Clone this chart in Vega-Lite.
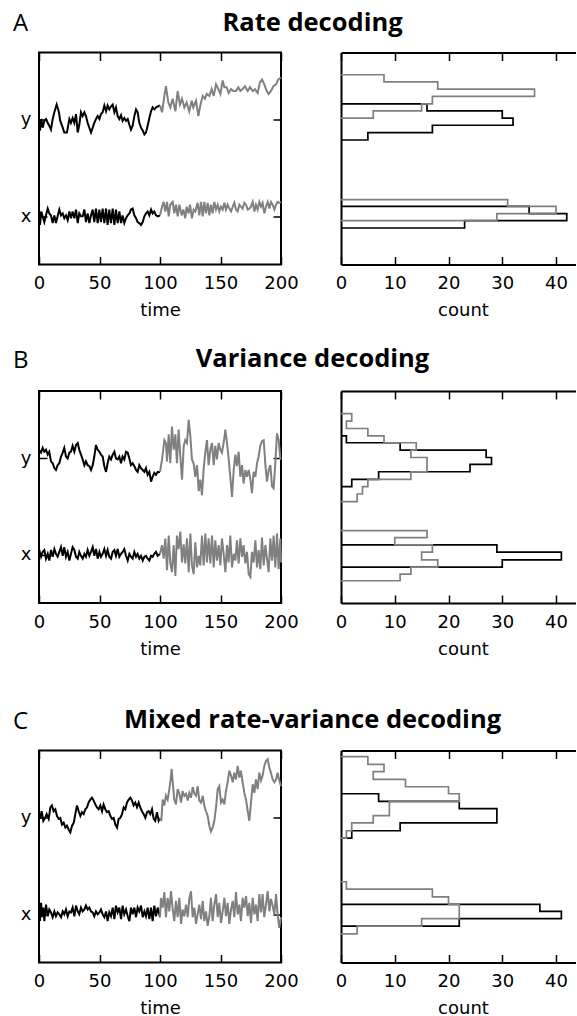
{
"$schema":"https://vega.github.io/schema/vega-lite/v6.json",
"padding":{"left":12,"top":10.5,"right":0,"bottom":0},
"background":"white",
"config":{
 "view":{"stroke":"black","strokeWidth":2},
 "line":{"strokeWidth":2},
 "axis":{"grid":false,"domain":false,"domainColor":"black","domainWidth":2,"tickColor":"black","tickWidth":1.5,"tickSize":-8,"labelFont":"DejaVu Sans","labelFontSize":18,"labelColor":"black","labelPadding":18.3,"labelFlush":false,"labelOverlap":false,"titleFont":"DejaVu Sans","titleFontSize":18,"titleFontWeight":"normal","titleColor":"black","titlePadding":8.7},
 "title":{"font":"Open Sans","color":"black","anchor":"start","frame":"group","baseline":"alphabetic"}
},
"datasets":{
"A":[
{"s":"y","t":0,"v":0.97},{"s":"y","t":0.8,"v":0.89},{"s":"y","t":1.9,"v":1.01},{"s":"y","t":3,"v":0.92},{"s":"y","t":4.4,"v":0.99},{"s":"y","t":5.8,"v":1.01},{"s":"y","t":7.2,"v":0.97},{"s":"y","t":8.5,"v":0.94},{"s":"y","t":9.9,"v":0.90},{"s":"y","t":11.3,"v":1.01},{"s":"y","t":12.7,"v":1.08},{"s":"y","t":14.6,"v":1.16},{"s":"y","t":16.3,"v":1.09},{"s":"y","t":17.6,"v":0.99},{"s":"y","t":19.6,"v":0.92},{"s":"y","t":20.9,"v":0.87},{"s":"y","t":23.1,"v":0.87},{"s":"y","t":25.1,"v":1.01},{"s":"y","t":26.4,"v":0.97},{"s":"y","t":27.8,"v":1.02},{"s":"y","t":29.2,"v":0.97},{"s":"y","t":30.6,"v":1.06},{"s":"y","t":32,"v":0.87},{"s":"y","t":33.3,"v":0.95},{"s":"y","t":34.7,"v":1.08},{"s":"y","t":36.1,"v":1.04},{"s":"y","t":37.5,"v":1.08},{"s":"y","t":38.8,"v":1.04},{"s":"y","t":40.2,"v":0.97},{"s":"y","t":41.6,"v":0.92},{"s":"y","t":43,"v":0.87},{"s":"y","t":44.4,"v":0.92},{"s":"y","t":45.7,"v":0.97},{"s":"y","t":47.1,"v":1.01},{"s":"y","t":48.5,"v":1.04},{"s":"y","t":49.9,"v":1.01},{"s":"y","t":51.2,"v":1.06},{"s":"y","t":52.6,"v":1.08},{"s":"y","t":54,"v":1.15},{"s":"y","t":55.4,"v":1.09},{"s":"y","t":56.7,"v":1.15},{"s":"y","t":58.1,"v":1.11},{"s":"y","t":59.5,"v":1.14},{"s":"y","t":60.9,"v":1.16},{"s":"y","t":62.3,"v":1.08},{"s":"y","t":63.6,"v":1.13},{"s":"y","t":65,"v":1.04},{"s":"y","t":66.4,"v":1.01},{"s":"y","t":67.8,"v":1.05},{"s":"y","t":69.1,"v":0.99},{"s":"y","t":70.5,"v":1.02},{"s":"y","t":71.9,"v":0.99},{"s":"y","t":73.3,"v":1.01},{"s":"y","t":74.7,"v":0.95},{"s":"y","t":76,"v":0.90},{"s":"y","t":77.4,"v":0.94},{"s":"y","t":78.8,"v":1.04},{"s":"y","t":80.2,"v":1.11},{"s":"y","t":81.5,"v":1.08},{"s":"y","t":82.9,"v":0.97},{"s":"y","t":84.3,"v":0.92},{"s":"y","t":85.7,"v":0.89},{"s":"y","t":87.1,"v":0.85},{"s":"y","t":88.4,"v":0.87},{"s":"y","t":89.8,"v":0.94},{"s":"y","t":91.2,"v":1.02},{"s":"y","t":92.6,"v":1.09},{"s":"y","t":93.9,"v":1.13},{"s":"y","t":95.3,"v":1.11},{"s":"y","t":96.7,"v":1.13},{"s":"y","t":98.1,"v":1.14},{"s":"y","t":100,"v":1.15},
{"s":"y","t":101.7,"v":1.08},{"s":"y","t":103.6,"v":1.25},{"s":"y","t":104.9,"v":1.35},{"s":"y","t":106.9,"v":1.18},{"s":"y","t":108.5,"v":1.13},{"s":"y","t":110.5,"v":1.22},{"s":"y","t":112.7,"v":1.09},{"s":"y","t":114.6,"v":1.30},{"s":"y","t":116.5,"v":1.16},{"s":"y","t":118.2,"v":1.22},{"s":"y","t":120.1,"v":1.13},{"s":"y","t":122,"v":1.18},{"s":"y","t":124.2,"v":1.09},{"s":"y","t":126.2,"v":1.20},{"s":"y","t":127.5,"v":1.13},{"s":"y","t":129.8,"v":1.20},{"s":"y","t":131.7,"v":1.04},{"s":"y","t":133.3,"v":1.15},{"s":"y","t":135.3,"v":1.25},{"s":"y","t":137.2,"v":1.22},{"s":"y","t":138.6,"v":1.27},{"s":"y","t":140.8,"v":1.25},{"s":"y","t":142.7,"v":1.32},{"s":"y","t":144.4,"v":1.25},{"s":"y","t":146.3,"v":1.37},{"s":"y","t":148.2,"v":1.32},{"s":"y","t":149.9,"v":1.27},{"s":"y","t":151.8,"v":1.41},{"s":"y","t":153.2,"v":1.34},{"s":"y","t":155.1,"v":1.34},{"s":"y","t":156.7,"v":1.28},{"s":"y","t":158.7,"v":1.32},{"s":"y","t":160.6,"v":1.30},{"s":"y","t":162.8,"v":1.30},{"s":"y","t":164.7,"v":1.34},{"s":"y","t":166.4,"v":1.30},{"s":"y","t":168.3,"v":1.32},{"s":"y","t":170.2,"v":1.35},{"s":"y","t":172.5,"v":1.30},{"s":"y","t":174.4,"v":1.34},{"s":"y","t":176.6,"v":1.30},{"s":"y","t":178.5,"v":1.32},{"s":"y","t":180.7,"v":1.28},{"s":"y","t":182.6,"v":1.39},{"s":"y","t":184.3,"v":1.42},{"s":"y","t":186.2,"v":1.37},{"s":"y","t":188.2,"v":1.30},{"s":"y","t":189.8,"v":1.27},{"s":"y","t":191.7,"v":1.30},{"s":"y","t":193.7,"v":1.35},{"s":"y","t":195.9,"v":1.37},{"s":"y","t":197.8,"v":1.42},{"s":"y","t":200,"v":1.44},
{"s":"x","t":0,"v":0.08},{"s":"x","t":0.8,"v":-0.09},{"s":"x","t":1.9,"v":0.05},{"s":"x","t":3,"v":0},{"s":"x","t":4.4,"v":-0.06},{"s":"x","t":5.8,"v":0.01},{"s":"x","t":7.2,"v":0.08},{"s":"x","t":8.5,"v":0.03},{"s":"x","t":9.9,"v":0.01},{"s":"x","t":11.3,"v":-0.07},{"s":"x","t":12.7,"v":0.01},{"s":"x","t":14,"v":-0.07},{"s":"x","t":15.4,"v":0},{"s":"x","t":16.8,"v":0.07},{"s":"x","t":18.2,"v":0.01},{"s":"x","t":19.6,"v":0.03},{"s":"x","t":20.9,"v":-0.02},{"s":"x","t":22.3,"v":0.01},{"s":"x","t":23.7,"v":-0.04},{"s":"x","t":25.1,"v":0.05},{"s":"x","t":26.4,"v":-0.02},{"s":"x","t":27.8,"v":0.05},{"s":"x","t":29.2,"v":-0.02},{"s":"x","t":30.6,"v":0.07},{"s":"x","t":32,"v":-0.07},{"s":"x","t":33.3,"v":0.03},{"s":"x","t":34.7,"v":0},{"s":"x","t":36.1,"v":0},{"s":"x","t":37.5,"v":0.07},{"s":"x","t":38.8,"v":-0.06},{"s":"x","t":40.2,"v":0.03},{"s":"x","t":41.6,"v":-0.07},{"s":"x","t":43,"v":0.01},{"s":"x","t":44.4,"v":0.07},{"s":"x","t":45.7,"v":-0.06},{"s":"x","t":47.1,"v":0.08},{"s":"x","t":48.5,"v":-0.07},{"s":"x","t":49.9,"v":0.07},{"s":"x","t":51.2,"v":-0.06},{"s":"x","t":52.6,"v":0.08},{"s":"x","t":54,"v":-0.07},{"s":"x","t":55.4,"v":0.08},{"s":"x","t":56.7,"v":-0.09},{"s":"x","t":58.1,"v":0.07},{"s":"x","t":59.5,"v":-0.07},{"s":"x","t":60.9,"v":0.08},{"s":"x","t":62.3,"v":-0.09},{"s":"x","t":63.6,"v":0.07},{"s":"x","t":65,"v":-0.07},{"s":"x","t":66.4,"v":0.05},{"s":"x","t":67.8,"v":-0.07},{"s":"x","t":69.1,"v":0.01},{"s":"x","t":70.5,"v":-0.07},{"s":"x","t":71.9,"v":-0.02},{"s":"x","t":73.3,"v":0.01},{"s":"x","t":74.7,"v":0.03},{"s":"x","t":76,"v":0.07},{"s":"x","t":77.4,"v":0.08},{"s":"x","t":78.8,"v":0.01},{"s":"x","t":80.2,"v":-0.02},{"s":"x","t":81.5,"v":-0.06},{"s":"x","t":82.9,"v":-0.07},{"s":"x","t":84.3,"v":-0.09},{"s":"x","t":85.7,"v":-0.06},{"s":"x","t":87.1,"v":0},{"s":"x","t":88.4,"v":0.03},{"s":"x","t":89.8,"v":0.05},{"s":"x","t":91.2,"v":0.01},{"s":"x","t":92.6,"v":0.07},{"s":"x","t":93.9,"v":0.03},{"s":"x","t":95.3,"v":0.05},{"s":"x","t":96.7,"v":0.01},{"s":"x","t":98.3,"v":0},{"s":"x","t":100,"v":0.01},
{"s":"x","t":101.7,"v":0.10},{"s":"x","t":103,"v":0.15},{"s":"x","t":104.4,"v":0.05},{"s":"x","t":105.8,"v":0.15},{"s":"x","t":107.2,"v":0},{"s":"x","t":108.5,"v":0.12},{"s":"x","t":110.5,"v":0.15},{"s":"x","t":111.8,"v":0.03},{"s":"x","t":113.2,"v":0.12},{"s":"x","t":114.6,"v":0},{"s":"x","t":116,"v":0.12},{"s":"x","t":117.9,"v":0.01},{"s":"x","t":119.3,"v":0.07},{"s":"x","t":120.9,"v":-0.02},{"s":"x","t":122,"v":0.10},{"s":"x","t":123.7,"v":0.03},{"s":"x","t":124.8,"v":0.12},{"s":"x","t":126.4,"v":-0.02},{"s":"x","t":127.8,"v":0.07},{"s":"x","t":129.2,"v":0.05},{"s":"x","t":131.1,"v":0.14},{"s":"x","t":132.5,"v":0.01},{"s":"x","t":133.9,"v":0.15},{"s":"x","t":135.3,"v":0},{"s":"x","t":136.6,"v":0.15},{"s":"x","t":138,"v":0.03},{"s":"x","t":139.4,"v":0.14},{"s":"x","t":140.8,"v":0.01},{"s":"x","t":142.1,"v":0.12},{"s":"x","t":143.5,"v":0.03},{"s":"x","t":144.9,"v":0.15},{"s":"x","t":146.3,"v":0.07},{"s":"x","t":147.7,"v":0.12},{"s":"x","t":149,"v":0.05},{"s":"x","t":150.4,"v":0.10},{"s":"x","t":151.8,"v":0.07},{"s":"x","t":153.2,"v":0.14},{"s":"x","t":154.5,"v":0.07},{"s":"x","t":155.9,"v":0.12},{"s":"x","t":157.3,"v":0.08},{"s":"x","t":158.7,"v":0.05},{"s":"x","t":160.1,"v":0.10},{"s":"x","t":161.4,"v":0.14},{"s":"x","t":162.8,"v":0.07},{"s":"x","t":164.2,"v":0.05},{"s":"x","t":165.6,"v":0.12},{"s":"x","t":166.9,"v":0.10},{"s":"x","t":168.3,"v":0.08},{"s":"x","t":169.7,"v":0.14},{"s":"x","t":171.1,"v":0.12},{"s":"x","t":172.5,"v":0.07},{"s":"x","t":173.8,"v":0.08},{"s":"x","t":175.2,"v":0.10},{"s":"x","t":176.6,"v":0.15},{"s":"x","t":178,"v":0.05},{"s":"x","t":179.3,"v":0.12},{"s":"x","t":180.7,"v":0.07},{"s":"x","t":182.1,"v":0.15},{"s":"x","t":183.5,"v":0.10},{"s":"x","t":184.8,"v":0.14},{"s":"x","t":186.2,"v":0.03},{"s":"x","t":187.6,"v":0.10},{"s":"x","t":189,"v":0.15},{"s":"x","t":190.4,"v":0.08},{"s":"x","t":191.7,"v":0.15},{"s":"x","t":193.1,"v":0.12},{"s":"x","t":194.5,"v":0.07},{"s":"x","t":195.9,"v":0.12},{"s":"x","t":197.2,"v":0.15},{"s":"x","t":198.6,"v":0.14},{"s":"x","t":200,"v":0.15}
],
"B":[
{"s":"y","t":0,"v":1.09},{"s":"y","t":1.7,"v":1.06},{"s":"y","t":3,"v":1.11},{"s":"y","t":4.4,"v":1.07},{"s":"y","t":5.8,"v":1.09},{"s":"y","t":7.2,"v":1.04},{"s":"y","t":8.5,"v":1.07},{"s":"y","t":9.9,"v":0.97},{"s":"y","t":11.3,"v":0.95},{"s":"y","t":12.7,"v":0.90},{"s":"y","t":14,"v":0.88},{"s":"y","t":15.4,"v":0.93},{"s":"y","t":16.8,"v":0.95},{"s":"y","t":18.2,"v":1.02},{"s":"y","t":19.6,"v":1.06},{"s":"y","t":20.9,"v":1.11},{"s":"y","t":22.3,"v":1.02},{"s":"y","t":23.7,"v":1.00},{"s":"y","t":25.1,"v":1.06},{"s":"y","t":26.4,"v":1.07},{"s":"y","t":27.8,"v":1.13},{"s":"y","t":29.2,"v":1.07},{"s":"y","t":30.6,"v":1.14},{"s":"y","t":32,"v":1.16},{"s":"y","t":33.3,"v":1.09},{"s":"y","t":34.7,"v":1.04},{"s":"y","t":36.1,"v":0.99},{"s":"y","t":37.5,"v":0.93},{"s":"y","t":38.8,"v":0.97},{"s":"y","t":40.2,"v":0.93},{"s":"y","t":41.6,"v":0.92},{"s":"y","t":43,"v":0.88},{"s":"y","t":44.4,"v":0.93},{"s":"y","t":45.7,"v":1.02},{"s":"y","t":47.1,"v":1.14},{"s":"y","t":48.5,"v":1.09},{"s":"y","t":49.9,"v":1.07},{"s":"y","t":51.2,"v":1.04},{"s":"y","t":52.6,"v":1.02},{"s":"y","t":54,"v":0.92},{"s":"y","t":55.4,"v":0.86},{"s":"y","t":56.7,"v":0.95},{"s":"y","t":58.1,"v":1.02},{"s":"y","t":59.5,"v":0.99},{"s":"y","t":60.9,"v":1.04},{"s":"y","t":62.3,"v":1.07},{"s":"y","t":63.6,"v":1.00},{"s":"y","t":65,"v":0.99},{"s":"y","t":66.4,"v":1.02},{"s":"y","t":67.8,"v":0.95},{"s":"y","t":69.1,"v":1.02},{"s":"y","t":70.5,"v":0.99},{"s":"y","t":71.9,"v":1.07},{"s":"y","t":73.3,"v":1.06},{"s":"y","t":74.7,"v":1.00},{"s":"y","t":76,"v":0.93},{"s":"y","t":77.4,"v":0.95},{"s":"y","t":78.8,"v":0.92},{"s":"y","t":80.2,"v":0.88},{"s":"y","t":81.5,"v":0.86},{"s":"y","t":82.9,"v":0.93},{"s":"y","t":84.3,"v":0.90},{"s":"y","t":85.7,"v":0.88},{"s":"y","t":87.1,"v":0.86},{"s":"y","t":88.4,"v":0.90},{"s":"y","t":89.8,"v":0.83},{"s":"y","t":91.2,"v":0.86},{"s":"y","t":92.6,"v":0.76},{"s":"y","t":93.9,"v":0.81},{"s":"y","t":95.3,"v":0.85},{"s":"y","t":96.7,"v":0.83},{"s":"y","t":98.1,"v":0.86},{"s":"y","t":100,"v":0.86},
{"s":"y","t":101.7,"v":0.99},{"s":"y","t":103.6,"v":1.19},{"s":"y","t":104.9,"v":1.16},{"s":"y","t":105.8,"v":0.97},{"s":"y","t":107.2,"v":1.25},{"s":"y","t":108.5,"v":0.95},{"s":"y","t":109.9,"v":1.33},{"s":"y","t":111.3,"v":1.09},{"s":"y","t":112.7,"v":1.25},{"s":"y","t":114,"v":0.95},{"s":"y","t":115.4,"v":1.30},{"s":"y","t":116.8,"v":1.02},{"s":"y","t":118.2,"v":0.78},{"s":"y","t":119.6,"v":1.13},{"s":"y","t":120.9,"v":1.19},{"s":"y","t":122.3,"v":1.16},{"s":"y","t":123.7,"v":1.40},{"s":"y","t":125.1,"v":1.23},{"s":"y","t":126.4,"v":0.99},{"s":"y","t":127.8,"v":0.95},{"s":"y","t":129.2,"v":0.81},{"s":"y","t":130.6,"v":0.93},{"s":"y","t":132,"v":0.66},{"s":"y","t":133.3,"v":0.78},{"s":"y","t":134.7,"v":0.62},{"s":"y","t":136.1,"v":0.90},{"s":"y","t":137.5,"v":1.07},{"s":"y","t":138.8,"v":1.19},{"s":"y","t":140.2,"v":0.93},{"s":"y","t":141.6,"v":1.09},{"s":"y","t":143,"v":1.16},{"s":"y","t":144.4,"v":0.93},{"s":"y","t":145.7,"v":1.13},{"s":"y","t":147.1,"v":0.99},{"s":"y","t":148.5,"v":1.16},{"s":"y","t":149.9,"v":1.09},{"s":"y","t":151.2,"v":1.06},{"s":"y","t":152.6,"v":1.16},{"s":"y","t":154,"v":1.30},{"s":"y","t":155.4,"v":1.16},{"s":"y","t":156.7,"v":1.00},{"s":"y","t":158.1,"v":0.81},{"s":"y","t":159.5,"v":0.60},{"s":"y","t":160.9,"v":0.88},{"s":"y","t":162.3,"v":1.04},{"s":"y","t":163.6,"v":0.92},{"s":"y","t":165,"v":1.07},{"s":"y","t":166.4,"v":0.81},{"s":"y","t":167.8,"v":0.93},{"s":"y","t":169.1,"v":0.74},{"s":"y","t":170.5,"v":0.88},{"s":"y","t":171.9,"v":0.81},{"s":"y","t":173.3,"v":0.88},{"s":"y","t":174.7,"v":0.78},{"s":"y","t":176,"v":0.64},{"s":"y","t":177.4,"v":0.86},{"s":"y","t":178.8,"v":0.81},{"s":"y","t":180.2,"v":0.95},{"s":"y","t":181.5,"v":1.02},{"s":"y","t":182.9,"v":1.13},{"s":"y","t":184.3,"v":1.18},{"s":"y","t":185.7,"v":1.19},{"s":"y","t":187.1,"v":0.93},{"s":"y","t":188.4,"v":0.76},{"s":"y","t":189.8,"v":0.88},{"s":"y","t":191.2,"v":0.93},{"s":"y","t":192.6,"v":0.71},{"s":"y","t":193.9,"v":0.69},{"s":"y","t":195.3,"v":0.95},{"s":"y","t":196.7,"v":1.26},{"s":"y","t":198.1,"v":1.19},{"s":"y","t":199.4,"v":1.00},{"s":"y","t":200,"v":0.99},
{"s":"x","t":0,"v":0.06},{"s":"x","t":1.7,"v":-0.02},{"s":"x","t":3,"v":0.03},{"s":"x","t":4.4,"v":0.05},{"s":"x","t":5.8,"v":-0.04},{"s":"x","t":7.2,"v":0.01},{"s":"x","t":8.5,"v":-0.06},{"s":"x","t":9.9,"v":0.05},{"s":"x","t":11.3,"v":-0.02},{"s":"x","t":12.7,"v":0.06},{"s":"x","t":14,"v":0.01},{"s":"x","t":15.4,"v":-0.02},{"s":"x","t":16.8,"v":0.03},{"s":"x","t":18.2,"v":0.08},{"s":"x","t":19.6,"v":-0.01},{"s":"x","t":20.9,"v":0.08},{"s":"x","t":22.3,"v":-0.02},{"s":"x","t":23.7,"v":0.03},{"s":"x","t":25.1,"v":-0.06},{"s":"x","t":26.4,"v":0.01},{"s":"x","t":27.8,"v":0.08},{"s":"x","t":29.2,"v":0.05},{"s":"x","t":30.6,"v":-0.02},{"s":"x","t":32,"v":-0.04},{"s":"x","t":33.3,"v":0.03},{"s":"x","t":34.7,"v":-0.01},{"s":"x","t":36.1,"v":-0.04},{"s":"x","t":37.5,"v":0.01},{"s":"x","t":38.8,"v":-0.02},{"s":"x","t":40.2,"v":0.05},{"s":"x","t":41.6,"v":-0.01},{"s":"x","t":43,"v":0.03},{"s":"x","t":44.4,"v":0.08},{"s":"x","t":45.7,"v":-0.01},{"s":"x","t":47.1,"v":0.06},{"s":"x","t":48.5,"v":-0.04},{"s":"x","t":49.9,"v":0.03},{"s":"x","t":51.2,"v":-0.02},{"s":"x","t":52.6,"v":0.01},{"s":"x","t":54,"v":0.06},{"s":"x","t":55.4,"v":-0.01},{"s":"x","t":56.7,"v":0.05},{"s":"x","t":58.1,"v":-0.02},{"s":"x","t":59.5,"v":-0.04},{"s":"x","t":60.9,"v":0.03},{"s":"x","t":62.3,"v":0.05},{"s":"x","t":63.6,"v":-0.01},{"s":"x","t":65,"v":0.06},{"s":"x","t":66.4,"v":-0.02},{"s":"x","t":67.8,"v":0.01},{"s":"x","t":69.1,"v":0.03},{"s":"x","t":70.5,"v":0.06},{"s":"x","t":71.9,"v":-0.01},{"s":"x","t":73.3,"v":-0.06},{"s":"x","t":74.7,"v":0.01},{"s":"x","t":76,"v":-0.02},{"s":"x","t":77.4,"v":-0.04},{"s":"x","t":78.8,"v":0.03},{"s":"x","t":80.2,"v":-0.02},{"s":"x","t":81.5,"v":0.01},{"s":"x","t":82.9,"v":-0.04},{"s":"x","t":84.3,"v":-0.01},{"s":"x","t":85.7,"v":-0.06},{"s":"x","t":87.1,"v":-0.02},{"s":"x","t":88.4,"v":-0.01},{"s":"x","t":89.8,"v":-0.04},{"s":"x","t":91.2,"v":-0.06},{"s":"x","t":92.6,"v":-0.01},{"s":"x","t":93.9,"v":-0.02},{"s":"x","t":95.3,"v":0.01},{"s":"x","t":96.7,"v":0.03},{"s":"x","t":98.1,"v":-0.01},{"s":"x","t":100,"v":0.01},
{"s":"x","t":101.7,"v":0.10},{"s":"x","t":103,"v":-0.04},{"s":"x","t":104.4,"v":0.17},{"s":"x","t":105.8,"v":-0.16},{"s":"x","t":107.2,"v":0.20},{"s":"x","t":108.5,"v":-0.08},{"s":"x","t":109.9,"v":-0.18},{"s":"x","t":111.3,"v":0.10},{"s":"x","t":112.7,"v":-0.22},{"s":"x","t":114,"v":0.20},{"s":"x","t":115.4,"v":0.06},{"s":"x","t":116.8,"v":0.24},{"s":"x","t":118.2,"v":-0.08},{"s":"x","t":119.6,"v":0.11},{"s":"x","t":120.9,"v":-0.09},{"s":"x","t":122.3,"v":0.17},{"s":"x","t":123.7,"v":-0.18},{"s":"x","t":125.1,"v":0.22},{"s":"x","t":126.4,"v":-0.11},{"s":"x","t":127.8,"v":-0.20},{"s":"x","t":129.2,"v":0.13},{"s":"x","t":130.6,"v":-0.13},{"s":"x","t":132,"v":-0.01},{"s":"x","t":133.3,"v":-0.11},{"s":"x","t":134.7,"v":0.20},{"s":"x","t":136.1,"v":-0.11},{"s":"x","t":137.5,"v":0.22},{"s":"x","t":138.8,"v":-0.08},{"s":"x","t":140.2,"v":0.17},{"s":"x","t":141.6,"v":-0.09},{"s":"x","t":143,"v":0.20},{"s":"x","t":144.4,"v":-0.13},{"s":"x","t":145.7,"v":0.15},{"s":"x","t":147.1,"v":-0.06},{"s":"x","t":148.5,"v":0.10},{"s":"x","t":149.9,"v":-0.11},{"s":"x","t":151.2,"v":0.17},{"s":"x","t":152.6,"v":0.01},{"s":"x","t":154,"v":-0.18},{"s":"x","t":155.4,"v":0.10},{"s":"x","t":156.7,"v":-0.08},{"s":"x","t":158.1,"v":0.20},{"s":"x","t":159.5,"v":-0.13},{"s":"x","t":160.9,"v":0.01},{"s":"x","t":162.3,"v":-0.06},{"s":"x","t":163.6,"v":0.15},{"s":"x","t":165,"v":-0.09},{"s":"x","t":166.4,"v":0.17},{"s":"x","t":167.8,"v":-0.02},{"s":"x","t":169.1,"v":0.10},{"s":"x","t":170.5,"v":-0.09},{"s":"x","t":171.9,"v":0.03},{"s":"x","t":173.3,"v":-0.20},{"s":"x","t":174.7,"v":-0.23},{"s":"x","t":176,"v":0.03},{"s":"x","t":177.4,"v":-0.08},{"s":"x","t":178.8,"v":0.15},{"s":"x","t":180.2,"v":-0.13},{"s":"x","t":181.5,"v":0.05},{"s":"x","t":182.9,"v":-0.15},{"s":"x","t":184.3,"v":0.18},{"s":"x","t":185.7,"v":-0.11},{"s":"x","t":187.1,"v":0.10},{"s":"x","t":188.4,"v":-0.04},{"s":"x","t":189.8,"v":-0.18},{"s":"x","t":191.2,"v":0.17},{"s":"x","t":192.6,"v":-0.06},{"s":"x","t":193.9,"v":0.20},{"s":"x","t":195.3,"v":-0.13},{"s":"x","t":196.7,"v":0.22},{"s":"x","t":198.1,"v":-0.15},{"s":"x","t":199.4,"v":0.17},{"s":"x","t":200,"v":-0.08}
],
"C":[
{"s":"y","t":0,"v":1.06},{"s":"y","t":1.1,"v":0.99},{"s":"y","t":2.2,"v":1.07},{"s":"y","t":3.6,"v":0.97},{"s":"y","t":5,"v":1.00},{"s":"y","t":6.3,"v":1.04},{"s":"y","t":8,"v":0.99},{"s":"y","t":9.4,"v":1.11},{"s":"y","t":10.7,"v":1.13},{"s":"y","t":12.1,"v":1.07},{"s":"y","t":13.5,"v":1.09},{"s":"y","t":14.9,"v":1.02},{"s":"y","t":16.3,"v":0.99},{"s":"y","t":17.6,"v":1.00},{"s":"y","t":19,"v":0.93},{"s":"y","t":20.4,"v":0.95},{"s":"y","t":21.8,"v":0.90},{"s":"y","t":23.1,"v":0.92},{"s":"y","t":24.5,"v":0.88},{"s":"y","t":25.9,"v":0.85},{"s":"y","t":27.3,"v":0.92},{"s":"y","t":28.7,"v":0.95},{"s":"y","t":30,"v":1.04},{"s":"y","t":31.4,"v":1.13},{"s":"y","t":32.8,"v":1.07},{"s":"y","t":34.2,"v":1.02},{"s":"y","t":35.5,"v":1.06},{"s":"y","t":36.9,"v":1.04},{"s":"y","t":38.3,"v":1.09},{"s":"y","t":39.7,"v":1.11},{"s":"y","t":41,"v":1.16},{"s":"y","t":42.4,"v":1.19},{"s":"y","t":43.8,"v":1.21},{"s":"y","t":45.2,"v":1.18},{"s":"y","t":46.6,"v":1.14},{"s":"y","t":47.9,"v":1.11},{"s":"y","t":49.3,"v":1.09},{"s":"y","t":50.7,"v":1.13},{"s":"y","t":52.1,"v":1.07},{"s":"y","t":53.4,"v":1.14},{"s":"y","t":54.8,"v":1.09},{"s":"y","t":56.2,"v":1.06},{"s":"y","t":57.6,"v":1.07},{"s":"y","t":59,"v":1.02},{"s":"y","t":60.3,"v":0.99},{"s":"y","t":61.7,"v":1.00},{"s":"y","t":63.1,"v":0.93},{"s":"y","t":64.5,"v":0.90},{"s":"y","t":65.8,"v":0.99},{"s":"y","t":67.2,"v":1.00},{"s":"y","t":68.6,"v":1.04},{"s":"y","t":70,"v":1.11},{"s":"y","t":71.3,"v":1.09},{"s":"y","t":72.7,"v":1.16},{"s":"y","t":74.1,"v":1.19},{"s":"y","t":75.5,"v":1.21},{"s":"y","t":76.9,"v":1.18},{"s":"y","t":78.2,"v":1.13},{"s":"y","t":79.6,"v":1.16},{"s":"y","t":81,"v":1.11},{"s":"y","t":82.4,"v":1.16},{"s":"y","t":83.7,"v":1.11},{"s":"y","t":85.1,"v":1.07},{"s":"y","t":86.5,"v":1.04},{"s":"y","t":87.9,"v":1.00},{"s":"y","t":89.3,"v":1.06},{"s":"y","t":90.6,"v":1.07},{"s":"y","t":92,"v":1.04},{"s":"y","t":93.4,"v":1.09},{"s":"y","t":94.8,"v":0.99},{"s":"y","t":96.1,"v":0.97},{"s":"y","t":97.5,"v":1.06},{"s":"y","t":98.9,"v":0.97},{"s":"y","t":100,"v":1.00},
{"s":"y","t":101.1,"v":0.97},{"s":"y","t":102.2,"v":1.19},{"s":"y","t":103.6,"v":1.13},{"s":"y","t":104.9,"v":1.23},{"s":"y","t":106.3,"v":1.19},{"s":"y","t":107.7,"v":1.30},{"s":"y","t":108.8,"v":1.40},{"s":"y","t":109.6,"v":1.51},{"s":"y","t":110.5,"v":1.37},{"s":"y","t":111.8,"v":1.19},{"s":"y","t":113.2,"v":1.14},{"s":"y","t":114.6,"v":1.30},{"s":"y","t":116,"v":1.25},{"s":"y","t":117.4,"v":1.16},{"s":"y","t":118.7,"v":1.28},{"s":"y","t":120.1,"v":1.23},{"s":"y","t":121.5,"v":1.25},{"s":"y","t":122.9,"v":1.18},{"s":"y","t":124.2,"v":1.26},{"s":"y","t":125.6,"v":1.21},{"s":"y","t":127,"v":1.32},{"s":"y","t":128.4,"v":1.25},{"s":"y","t":129.8,"v":1.23},{"s":"y","t":131.1,"v":1.33},{"s":"y","t":132.5,"v":1.18},{"s":"y","t":133.9,"v":1.16},{"s":"y","t":135.3,"v":1.23},{"s":"y","t":136.6,"v":1.13},{"s":"y","t":138,"v":1.07},{"s":"y","t":139.4,"v":1.02},{"s":"y","t":140.8,"v":0.92},{"s":"y","t":142.1,"v":0.86},{"s":"y","t":143.5,"v":0.90},{"s":"y","t":144.9,"v":0.97},{"s":"y","t":146.3,"v":1.11},{"s":"y","t":147.7,"v":1.30},{"s":"y","t":149,"v":1.33},{"s":"y","t":150.4,"v":1.16},{"s":"y","t":151.8,"v":1.19},{"s":"y","t":153.2,"v":1.14},{"s":"y","t":154.5,"v":1.28},{"s":"y","t":155.9,"v":1.37},{"s":"y","t":157.3,"v":1.49},{"s":"y","t":158.7,"v":1.44},{"s":"y","t":160.1,"v":1.37},{"s":"y","t":161.4,"v":1.47},{"s":"y","t":162.8,"v":1.40},{"s":"y","t":164.2,"v":1.54},{"s":"y","t":165.6,"v":1.42},{"s":"y","t":166.9,"v":1.49},{"s":"y","t":168.3,"v":1.37},{"s":"y","t":169.7,"v":1.26},{"s":"y","t":171.1,"v":1.19},{"s":"y","t":172.5,"v":1.07},{"s":"y","t":173.8,"v":0.97},{"s":"y","t":175.2,"v":1.16},{"s":"y","t":176.6,"v":1.35},{"s":"y","t":178,"v":1.26},{"s":"y","t":179.3,"v":1.40},{"s":"y","t":180.7,"v":1.30},{"s":"y","t":182.1,"v":1.47},{"s":"y","t":183.5,"v":1.39},{"s":"y","t":184.8,"v":1.44},{"s":"y","t":186.2,"v":1.54},{"s":"y","t":187.6,"v":1.59},{"s":"y","t":189,"v":1.61},{"s":"y","t":190.4,"v":1.52},{"s":"y","t":191.7,"v":1.47},{"s":"y","t":193.1,"v":1.40},{"s":"y","t":194.5,"v":1.37},{"s":"y","t":195.9,"v":1.40},{"s":"y","t":197.2,"v":1.47},{"s":"y","t":198.6,"v":1.39},{"s":"y","t":200,"v":1.33},
{"s":"x","t":0,"v":0.10},{"s":"x","t":0.8,"v":-0.07},{"s":"x","t":1.7,"v":0.12},{"s":"x","t":2.5,"v":-0.03},{"s":"x","t":3.6,"v":0.07},{"s":"x","t":4.4,"v":-0.07},{"s":"x","t":5.8,"v":0.10},{"s":"x","t":7.2,"v":-0.02},{"s":"x","t":8.5,"v":0.05},{"s":"x","t":9.9,"v":0.02},{"s":"x","t":11.3,"v":-0.03},{"s":"x","t":12.7,"v":0.03},{"s":"x","t":14,"v":-0.02},{"s":"x","t":15.4,"v":0.02},{"s":"x","t":16.8,"v":0},{"s":"x","t":18.2,"v":-0.03},{"s":"x","t":19.6,"v":0.03},{"s":"x","t":20.9,"v":0},{"s":"x","t":22.3,"v":0.05},{"s":"x","t":23.7,"v":-0.02},{"s":"x","t":25.1,"v":0.03},{"s":"x","t":26.4,"v":0.02},{"s":"x","t":27.8,"v":0.07},{"s":"x","t":29.2,"v":-0.02},{"s":"x","t":30.6,"v":0.09},{"s":"x","t":32,"v":0.03},{"s":"x","t":33.3,"v":0},{"s":"x","t":34.7,"v":0.07},{"s":"x","t":36.1,"v":0.03},{"s":"x","t":37.5,"v":0.05},{"s":"x","t":38.8,"v":0.09},{"s":"x","t":40.2,"v":0.05},{"s":"x","t":41.6,"v":0.07},{"s":"x","t":43,"v":0.03},{"s":"x","t":44.4,"v":0.02},{"s":"x","t":45.7,"v":-0.02},{"s":"x","t":47.1,"v":0.03},{"s":"x","t":48.5,"v":0},{"s":"x","t":49.9,"v":0.02},{"s":"x","t":51.2,"v":0.05},{"s":"x","t":52.6,"v":0},{"s":"x","t":54,"v":-0.03},{"s":"x","t":55.4,"v":0.03},{"s":"x","t":56.7,"v":-0.07},{"s":"x","t":58.1,"v":0.02},{"s":"x","t":59.5,"v":-0.02},{"s":"x","t":60.9,"v":0.07},{"s":"x","t":62.3,"v":-0.05},{"s":"x","t":63.6,"v":0.09},{"s":"x","t":65,"v":0.02},{"s":"x","t":66.4,"v":0.07},{"s":"x","t":67.8,"v":-0.05},{"s":"x","t":69.1,"v":0.09},{"s":"x","t":70.5,"v":0},{"s":"x","t":71.9,"v":0.05},{"s":"x","t":73.3,"v":-0.02},{"s":"x","t":74.7,"v":-0.07},{"s":"x","t":76,"v":0.07},{"s":"x","t":77.4,"v":0},{"s":"x","t":78.8,"v":0.07},{"s":"x","t":80.2,"v":-0.03},{"s":"x","t":81.5,"v":0.07},{"s":"x","t":82.9,"v":0.03},{"s":"x","t":84.3,"v":0.09},{"s":"x","t":85.7,"v":-0.03},{"s":"x","t":87.1,"v":0.03},{"s":"x","t":88.4,"v":-0.02},{"s":"x","t":89.8,"v":0.07},{"s":"x","t":91.2,"v":-0.05},{"s":"x","t":92.6,"v":0.07},{"s":"x","t":93.9,"v":-0.07},{"s":"x","t":95.3,"v":0.09},{"s":"x","t":96.7,"v":-0.02},{"s":"x","t":98.1,"v":0.07},{"s":"x","t":100,"v":-0.03},
{"s":"x","t":100.8,"v":0.17},{"s":"x","t":102.2,"v":0.07},{"s":"x","t":103.6,"v":0.23},{"s":"x","t":104.9,"v":-0.03},{"s":"x","t":106.3,"v":0.17},{"s":"x","t":107.7,"v":0.03},{"s":"x","t":109.1,"v":0.24},{"s":"x","t":110.5,"v":0.05},{"s":"x","t":111.8,"v":-0.07},{"s":"x","t":113.2,"v":0.14},{"s":"x","t":114.6,"v":-0.03},{"s":"x","t":116,"v":0.17},{"s":"x","t":117.4,"v":-0.10},{"s":"x","t":118.7,"v":0.05},{"s":"x","t":120.1,"v":-0.02},{"s":"x","t":121.5,"v":0.10},{"s":"x","t":122.9,"v":-0.03},{"s":"x","t":124.2,"v":0.16},{"s":"x","t":125.6,"v":0.24},{"s":"x","t":127,"v":-0.03},{"s":"x","t":128.4,"v":0.07},{"s":"x","t":129.8,"v":-0.10},{"s":"x","t":131.1,"v":0},{"s":"x","t":132.5,"v":0.10},{"s":"x","t":133.9,"v":-0.05},{"s":"x","t":135.3,"v":0.14},{"s":"x","t":136.6,"v":-0.07},{"s":"x","t":138,"v":0.03},{"s":"x","t":139.4,"v":-0.12},{"s":"x","t":140.8,"v":-0.02},{"s":"x","t":142.1,"v":0.17},{"s":"x","t":143.5,"v":-0.07},{"s":"x","t":144.9,"v":0.10},{"s":"x","t":146.3,"v":0.21},{"s":"x","t":147.7,"v":-0.03},{"s":"x","t":149,"v":0.12},{"s":"x","t":150.4,"v":-0.09},{"s":"x","t":151.8,"v":0.03},{"s":"x","t":153.2,"v":0.17},{"s":"x","t":154.5,"v":-0.02},{"s":"x","t":155.9,"v":0.12},{"s":"x","t":157.3,"v":-0.10},{"s":"x","t":158.7,"v":0.05},{"s":"x","t":160.1,"v":0.14},{"s":"x","t":161.4,"v":-0.03},{"s":"x","t":162.8,"v":0.23},{"s":"x","t":164.2,"v":0},{"s":"x","t":165.6,"v":0.10},{"s":"x","t":166.9,"v":-0.07},{"s":"x","t":168.3,"v":0.17},{"s":"x","t":169.7,"v":0.07},{"s":"x","t":171.1,"v":0.19},{"s":"x","t":172.5,"v":-0.02},{"s":"x","t":173.8,"v":0.12},{"s":"x","t":175.2,"v":-0.09},{"s":"x","t":176.6,"v":0.17},{"s":"x","t":178,"v":0},{"s":"x","t":179.3,"v":0.10},{"s":"x","t":180.7,"v":-0.07},{"s":"x","t":182.1,"v":0.21},{"s":"x","t":183.5,"v":0.02},{"s":"x","t":184.8,"v":0.21},{"s":"x","t":186.2,"v":-0.03},{"s":"x","t":187.6,"v":0.10},{"s":"x","t":189,"v":0.24},{"s":"x","t":190.4,"v":0.03},{"s":"x","t":191.7,"v":0.16},{"s":"x","t":193.1,"v":0.09},{"s":"x","t":194.5,"v":0},{"s":"x","t":195.9,"v":0.21},{"s":"x","t":197.2,"v":0},{"s":"x","t":198.6,"v":-0.14},{"s":"x","t":200,"v":-0.03}
],
"hA":[
{"h":"b","s":"y","i":0,"e":0.792,"c":0},{"h":"b","s":"y","i":1,"e":0.869,"c":5},{"h":"b","s":"y","i":2,"e":0.945,"c":17},{"h":"b","s":"y","i":3,"e":1.018,"c":32},{"h":"b","s":"y","i":4,"e":1.094,"c":30},{"h":"b","s":"y","i":5,"e":1.167,"c":16},{"h":"b","s":"y","i":6,"e":1.167,"c":0},
{"h":"g","s":"y","i":0,"e":1.018,"c":0},{"h":"g","s":"y","i":1,"e":1.094,"c":6},{"h":"g","s":"y","i":2,"e":1.167,"c":15},{"h":"g","s":"y","i":3,"e":1.244,"c":17},{"h":"g","s":"y","i":4,"e":1.320,"c":36},{"h":"g","s":"y","i":5,"e":1.396,"c":18},{"h":"g","s":"y","i":6,"e":1.469,"c":8},{"h":"g","s":"y","i":7,"e":1.469,"c":0},
{"h":"b","s":"x","i":0,"e":-0.121,"c":0},{"h":"b","s":"x","i":1,"e":-0.045,"c":23},{"h":"b","s":"x","i":2,"e":0.028,"c":42},{"h":"b","s":"x","i":3,"e":0.104,"c":35},{"h":"b","s":"x","i":4,"e":0.104,"c":0},
{"h":"g","s":"x","i":0,"e":-0.045,"c":0},{"h":"g","s":"x","i":1,"e":0.028,"c":29},{"h":"g","s":"x","i":2,"e":0.104,"c":40},{"h":"g","s":"x","i":3,"e":0.174,"c":31},{"h":"g","s":"x","i":4,"e":0.174,"c":0}
],
"hB":[
{"h":"b","s":"y","i":0,"e":0.707,"c":0},{"h":"b","s":"y","i":1,"e":0.783,"c":2},{"h":"b","s":"y","i":2,"e":0.862,"c":7},{"h":"b","s":"y","i":3,"e":0.938,"c":24},{"h":"b","s":"y","i":4,"e":1.010,"c":28},{"h":"b","s":"y","i":5,"e":1.087,"c":27},{"h":"b","s":"y","i":6,"e":1.163,"c":11},{"h":"b","s":"y","i":7,"e":1.235,"c":1},{"h":"b","s":"y","i":8,"e":1.235,"c":0},
{"h":"g","s":"y","i":0,"e":0.552,"c":0},{"h":"g","s":"y","i":1,"e":0.631,"c":3},{"h":"g","s":"y","i":2,"e":0.707,"c":4},{"h":"g","s":"y","i":3,"e":0.783,"c":5},{"h":"g","s":"y","i":4,"e":0.862,"c":13},{"h":"g","s":"y","i":5,"e":0.938,"c":16},{"h":"g","s":"y","i":6,"e":1.010,"c":16},{"h":"g","s":"y","i":7,"e":1.087,"c":13},{"h":"g","s":"y","i":8,"e":1.163,"c":14},{"h":"g","s":"y","i":9,"e":1.235,"c":8},{"h":"g","s":"y","i":10,"e":1.311,"c":5},{"h":"g","s":"y","i":11,"e":1.387,"c":1},{"h":"g","s":"y","i":12,"e":1.466,"c":2},{"h":"g","s":"y","i":13,"e":1.466,"c":0},
{"h":"b","s":"x","i":0,"e":-0.128,"c":0},{"h":"b","s":"x","i":1,"e":-0.052,"c":30},{"h":"b","s":"x","i":2,"e":0.027,"c":41},{"h":"b","s":"x","i":3,"e":0.104,"c":29},{"h":"b","s":"x","i":4,"e":0.104,"c":0},
{"h":"g","s":"x","i":0,"e":-0.269,"c":0},{"h":"g","s":"x","i":1,"e":-0.201,"c":11},{"h":"g","s":"x","i":2,"e":-0.128,"c":13},{"h":"g","s":"x","i":3,"e":-0.052,"c":18},{"h":"g","s":"x","i":4,"e":0.027,"c":15},{"h":"g","s":"x","i":5,"e":0.104,"c":17},{"h":"g","s":"x","i":6,"e":0.179,"c":10},{"h":"g","s":"x","i":7,"e":0.252,"c":16},{"h":"g","s":"x","i":8,"e":0.252,"c":0}
],
"hC":[
{"h":"b","s":"y","i":0,"e":0.791,"c":0},{"h":"b","s":"y","i":1,"e":0.867,"c":2},{"h":"b","s":"y","i":2,"e":0.948,"c":11},{"h":"b","s":"y","i":3,"e":1.024,"c":29},{"h":"b","s":"y","i":4,"e":1.097,"c":29},{"h":"b","s":"y","i":5,"e":1.173,"c":22},{"h":"b","s":"y","i":6,"e":1.251,"c":7},{"h":"b","s":"y","i":7,"e":1.251,"c":0},
{"h":"g","s":"y","i":0,"e":0.791,"c":0},{"h":"g","s":"y","i":1,"e":0.867,"c":1},{"h":"g","s":"y","i":2,"e":0.948,"c":2},{"h":"g","s":"y","i":3,"e":1.024,"c":6},{"h":"g","s":"y","i":4,"e":1.097,"c":9},{"h":"g","s":"y","i":5,"e":1.173,"c":9},{"h":"g","s":"y","i":6,"e":1.251,"c":22},{"h":"g","s":"y","i":7,"e":1.324,"c":20},{"h":"g","s":"y","i":8,"e":1.400,"c":12},{"h":"g","s":"y","i":9,"e":1.481,"c":6},{"h":"g","s":"y","i":10,"e":1.557,"c":8},{"h":"g","s":"y","i":11,"e":1.637,"c":5},{"h":"g","s":"y","i":12,"e":1.637,"c":0},
{"h":"b","s":"x","i":0,"e":-0.122,"c":0},{"h":"b","s":"x","i":1,"e":-0.045,"c":22},{"h":"b","s":"x","i":2,"e":0.031,"c":41},{"h":"b","s":"x","i":3,"e":0.104,"c":37},{"h":"b","s":"x","i":4,"e":0.104,"c":0},
{"h":"g","s":"x","i":0,"e":-0.202,"c":0},{"h":"g","s":"x","i":1,"e":-0.122,"c":3},{"h":"g","s":"x","i":2,"e":-0.045,"c":15},{"h":"g","s":"x","i":3,"e":0.031,"c":22},{"h":"g","s":"x","i":4,"e":0.104,"c":22},{"h":"g","s":"x","i":5,"e":0.181,"c":20},{"h":"g","s":"x","i":6,"e":0.261,"c":17},{"h":"g","s":"x","i":7,"e":0.338,"c":1},{"h":"g","s":"x","i":8,"e":0.338,"c":0}
]
},
"spacing":26.5,
"vconcat":[
{"bounds":"flush","spacing":60,"hconcat":[
 {"width":242,"height":212,"title":{"text":"A","fontSize":24,"fontWeight":"normal","dx":-26,"offset":15.4},"data":{"name":"A"},
  "layer":[
   {"transform":[{"filter":"datum.t <= 100"}],"mark":{"type":"line","color":"black"},
    "encoding":{"x":{"field":"t","type":"quantitative","scale":{"domain":[0,200],"nice":false},"axis":{"orient":"bottom","values":[0,50,100,150,200],"title":"time"}},
     "y":{"field":"v","type":"quantitative","scale":{"domain":[-0.5,1.7],"nice":false,"zero":false},"axis":{"orient":"left","values":[0,1],"labelExpr":"datum.value == 1 ? 'y' : 'x'","labelPadding":16,"title":null}},"detail":{"field":"s"}}},
   {"transform":[{"filter":"datum.t >= 100"}],"mark":{"type":"line","color":"#808080"},
    "encoding":{"x":{"field":"t","type":"quantitative","scale":{"domain":[0,200],"nice":false},"axis":{"orient":"top","values":[0,50,100,150,200],"labels":false,"title":null}},
     "y":{"field":"v","type":"quantitative","scale":{"domain":[-0.5,1.7],"nice":false,"zero":false},"axis":{"orient":"right","values":[0,1],"labels":false,"title":null}},"detail":{"field":"s"}}}
  ],
  "resolve":{"axis":{"x":"independent","y":"independent"}}},
 {"width":235,"height":212,"view":{"stroke":null},"title":{"text":"Rate decoding","fontSize":25.5,"fontWeight":"bold","anchor":"middle","dx":-146,"offset":15.4},"data":{"name":"hA"},
  "layer":[
   {"transform":[{"filter":"datum.h == 'b'"}],"mark":{"type":"line","color":"black","strokeWidth":1.7,"interpolate":"step-after"},
    "encoding":{"x":{"field":"c","type":"quantitative","scale":{"domain":[0,43.72],"nice":false},"axis":{"orient":"bottom","values":[0,10,20,30,40],"title":"count","titleX":122,"domain":true}},
     "y":{"field":"e","type":"quantitative","scale":{"domain":[-0.5,1.7],"nice":false,"zero":false},"axis":{"orient":"left","labels":false,"ticks":false,"domain":true,"title":null}},"detail":{"field":"s"},"order":{"field":"i"}}},
   {"transform":[{"filter":"datum.h == 'g'"}],"mark":{"type":"line","color":"#808080","strokeWidth":1.7,"interpolate":"step-after"},
    "encoding":{"x":{"field":"c","type":"quantitative","scale":{"domain":[0,43.72],"nice":false},"axis":{"orient":"top","values":[0,10,20,30,40],"labels":false,"title":null,"domain":true}},
     "y":{"field":"e","type":"quantitative","scale":{"domain":[-0.5,1.7],"nice":false,"zero":false},"axis":null},"detail":{"field":"s"},"order":{"field":"i"}}}
  ],
  "resolve":{"axis":{"x":"independent","y":"independent"}}}
]},
{"spacing":48.5,"vconcat":[
{"bounds":"flush","spacing":60,"hconcat":[
 {"width":242,"height":212,"title":{"text":"B","fontSize":24,"fontWeight":"normal","dx":-26,"offset":17.4},"data":{"name":"B"},
  "layer":[
   {"transform":[{"filter":"datum.t <= 100"}],"mark":{"type":"line","color":"black"},
    "encoding":{"x":{"field":"t","type":"quantitative","scale":{"domain":[0,200],"nice":false},"axis":{"orient":"bottom","values":[0,50,100,150,200],"title":"time"}},
     "y":{"field":"v","type":"quantitative","scale":{"domain":[-0.5,1.7],"nice":false,"zero":false},"axis":{"orient":"left","values":[0,1],"labelExpr":"datum.value == 1 ? 'y' : 'x'","labelPadding":16,"title":null}},"detail":{"field":"s"}}},
   {"transform":[{"filter":"datum.t >= 100"}],"mark":{"type":"line","color":"#808080"},
    "encoding":{"x":{"field":"t","type":"quantitative","scale":{"domain":[0,200],"nice":false},"axis":{"orient":"top","values":[0,50,100,150,200],"labels":false,"title":null}},
     "y":{"field":"v","type":"quantitative","scale":{"domain":[-0.5,1.7],"nice":false,"zero":false},"axis":{"orient":"right","values":[0,1],"labels":false,"title":null}},"detail":{"field":"s"}}}
  ],
  "resolve":{"axis":{"x":"independent","y":"independent"}}},
 {"width":235,"height":212,"view":{"stroke":null},"title":{"text":"Variance decoding","fontSize":25.5,"fontWeight":"bold","anchor":"middle","dx":-146,"offset":17.4},"data":{"name":"hB"},
  "layer":[
   {"transform":[{"filter":"datum.h == 'b'"}],"mark":{"type":"line","color":"black","strokeWidth":1.7,"interpolate":"step-after"},
    "encoding":{"x":{"field":"c","type":"quantitative","scale":{"domain":[0,43.72],"nice":false},"axis":{"orient":"bottom","values":[0,10,20,30,40],"title":"count","titleX":122,"domain":true}},
     "y":{"field":"e","type":"quantitative","scale":{"domain":[-0.5,1.7],"nice":false,"zero":false},"axis":{"orient":"left","labels":false,"ticks":false,"domain":true,"title":null}},"detail":{"field":"s"},"order":{"field":"i"}}},
   {"transform":[{"filter":"datum.h == 'g'"}],"mark":{"type":"line","color":"#808080","strokeWidth":1.7,"interpolate":"step-after"},
    "encoding":{"x":{"field":"c","type":"quantitative","scale":{"domain":[0,43.72],"nice":false},"axis":{"orient":"top","values":[0,10,20,30,40],"labels":false,"title":null,"domain":true}},
     "y":{"field":"e","type":"quantitative","scale":{"domain":[-0.5,1.7],"nice":false,"zero":false},"axis":null},"detail":{"field":"s"},"order":{"field":"i"}}}
  ],
  "resolve":{"axis":{"x":"independent","y":"independent"}}}
]},
{"bounds":"flush","spacing":60,"hconcat":[
 {"width":242,"height":212,"title":{"text":"C","fontSize":24,"fontWeight":"normal","dx":-26,"offset":15.9},"data":{"name":"C"},
  "layer":[
   {"transform":[{"filter":"datum.t <= 100"}],"mark":{"type":"line","color":"black"},
    "encoding":{"x":{"field":"t","type":"quantitative","scale":{"domain":[0,200],"nice":false},"axis":{"orient":"bottom","values":[0,50,100,150,200],"title":"time"}},
     "y":{"field":"v","type":"quantitative","scale":{"domain":[-0.5,1.7],"nice":false,"zero":false},"axis":{"orient":"left","values":[0,1],"labelExpr":"datum.value == 1 ? 'y' : 'x'","labelPadding":16,"title":null}},"detail":{"field":"s"}}},
   {"transform":[{"filter":"datum.t >= 100"}],"mark":{"type":"line","color":"#808080"},
    "encoding":{"x":{"field":"t","type":"quantitative","scale":{"domain":[0,200],"nice":false},"axis":{"orient":"top","values":[0,50,100,150,200],"labels":false,"title":null}},
     "y":{"field":"v","type":"quantitative","scale":{"domain":[-0.5,1.7],"nice":false,"zero":false},"axis":{"orient":"right","values":[0,1],"labels":false,"title":null}},"detail":{"field":"s"}}}
  ],
  "resolve":{"axis":{"x":"independent","y":"independent"}}},
 {"width":235,"height":212,"view":{"stroke":null},"title":{"text":"Mixed rate-variance decoding","fontSize":25.5,"fontWeight":"bold","anchor":"middle","dx":-146,"offset":15.9},"data":{"name":"hC"},
  "layer":[
   {"transform":[{"filter":"datum.h == 'b'"}],"mark":{"type":"line","color":"black","strokeWidth":1.7,"interpolate":"step-after"},
    "encoding":{"x":{"field":"c","type":"quantitative","scale":{"domain":[0,43.72],"nice":false},"axis":{"orient":"bottom","values":[0,10,20,30,40],"title":"count","titleX":122,"domain":true}},
     "y":{"field":"e","type":"quantitative","scale":{"domain":[-0.5,1.7],"nice":false,"zero":false},"axis":{"orient":"left","labels":false,"ticks":false,"domain":true,"title":null}},"detail":{"field":"s"},"order":{"field":"i"}}},
   {"transform":[{"filter":"datum.h == 'g'"}],"mark":{"type":"line","color":"#808080","strokeWidth":1.7,"interpolate":"step-after"},
    "encoding":{"x":{"field":"c","type":"quantitative","scale":{"domain":[0,43.72],"nice":false},"axis":{"orient":"top","values":[0,10,20,30,40],"labels":false,"title":null,"domain":true}},
     "y":{"field":"e","type":"quantitative","scale":{"domain":[-0.5,1.7],"nice":false,"zero":false},"axis":null},"detail":{"field":"s"},"order":{"field":"i"}}}
  ],
  "resolve":{"axis":{"x":"independent","y":"independent"}}}
]}
]}
]
}
